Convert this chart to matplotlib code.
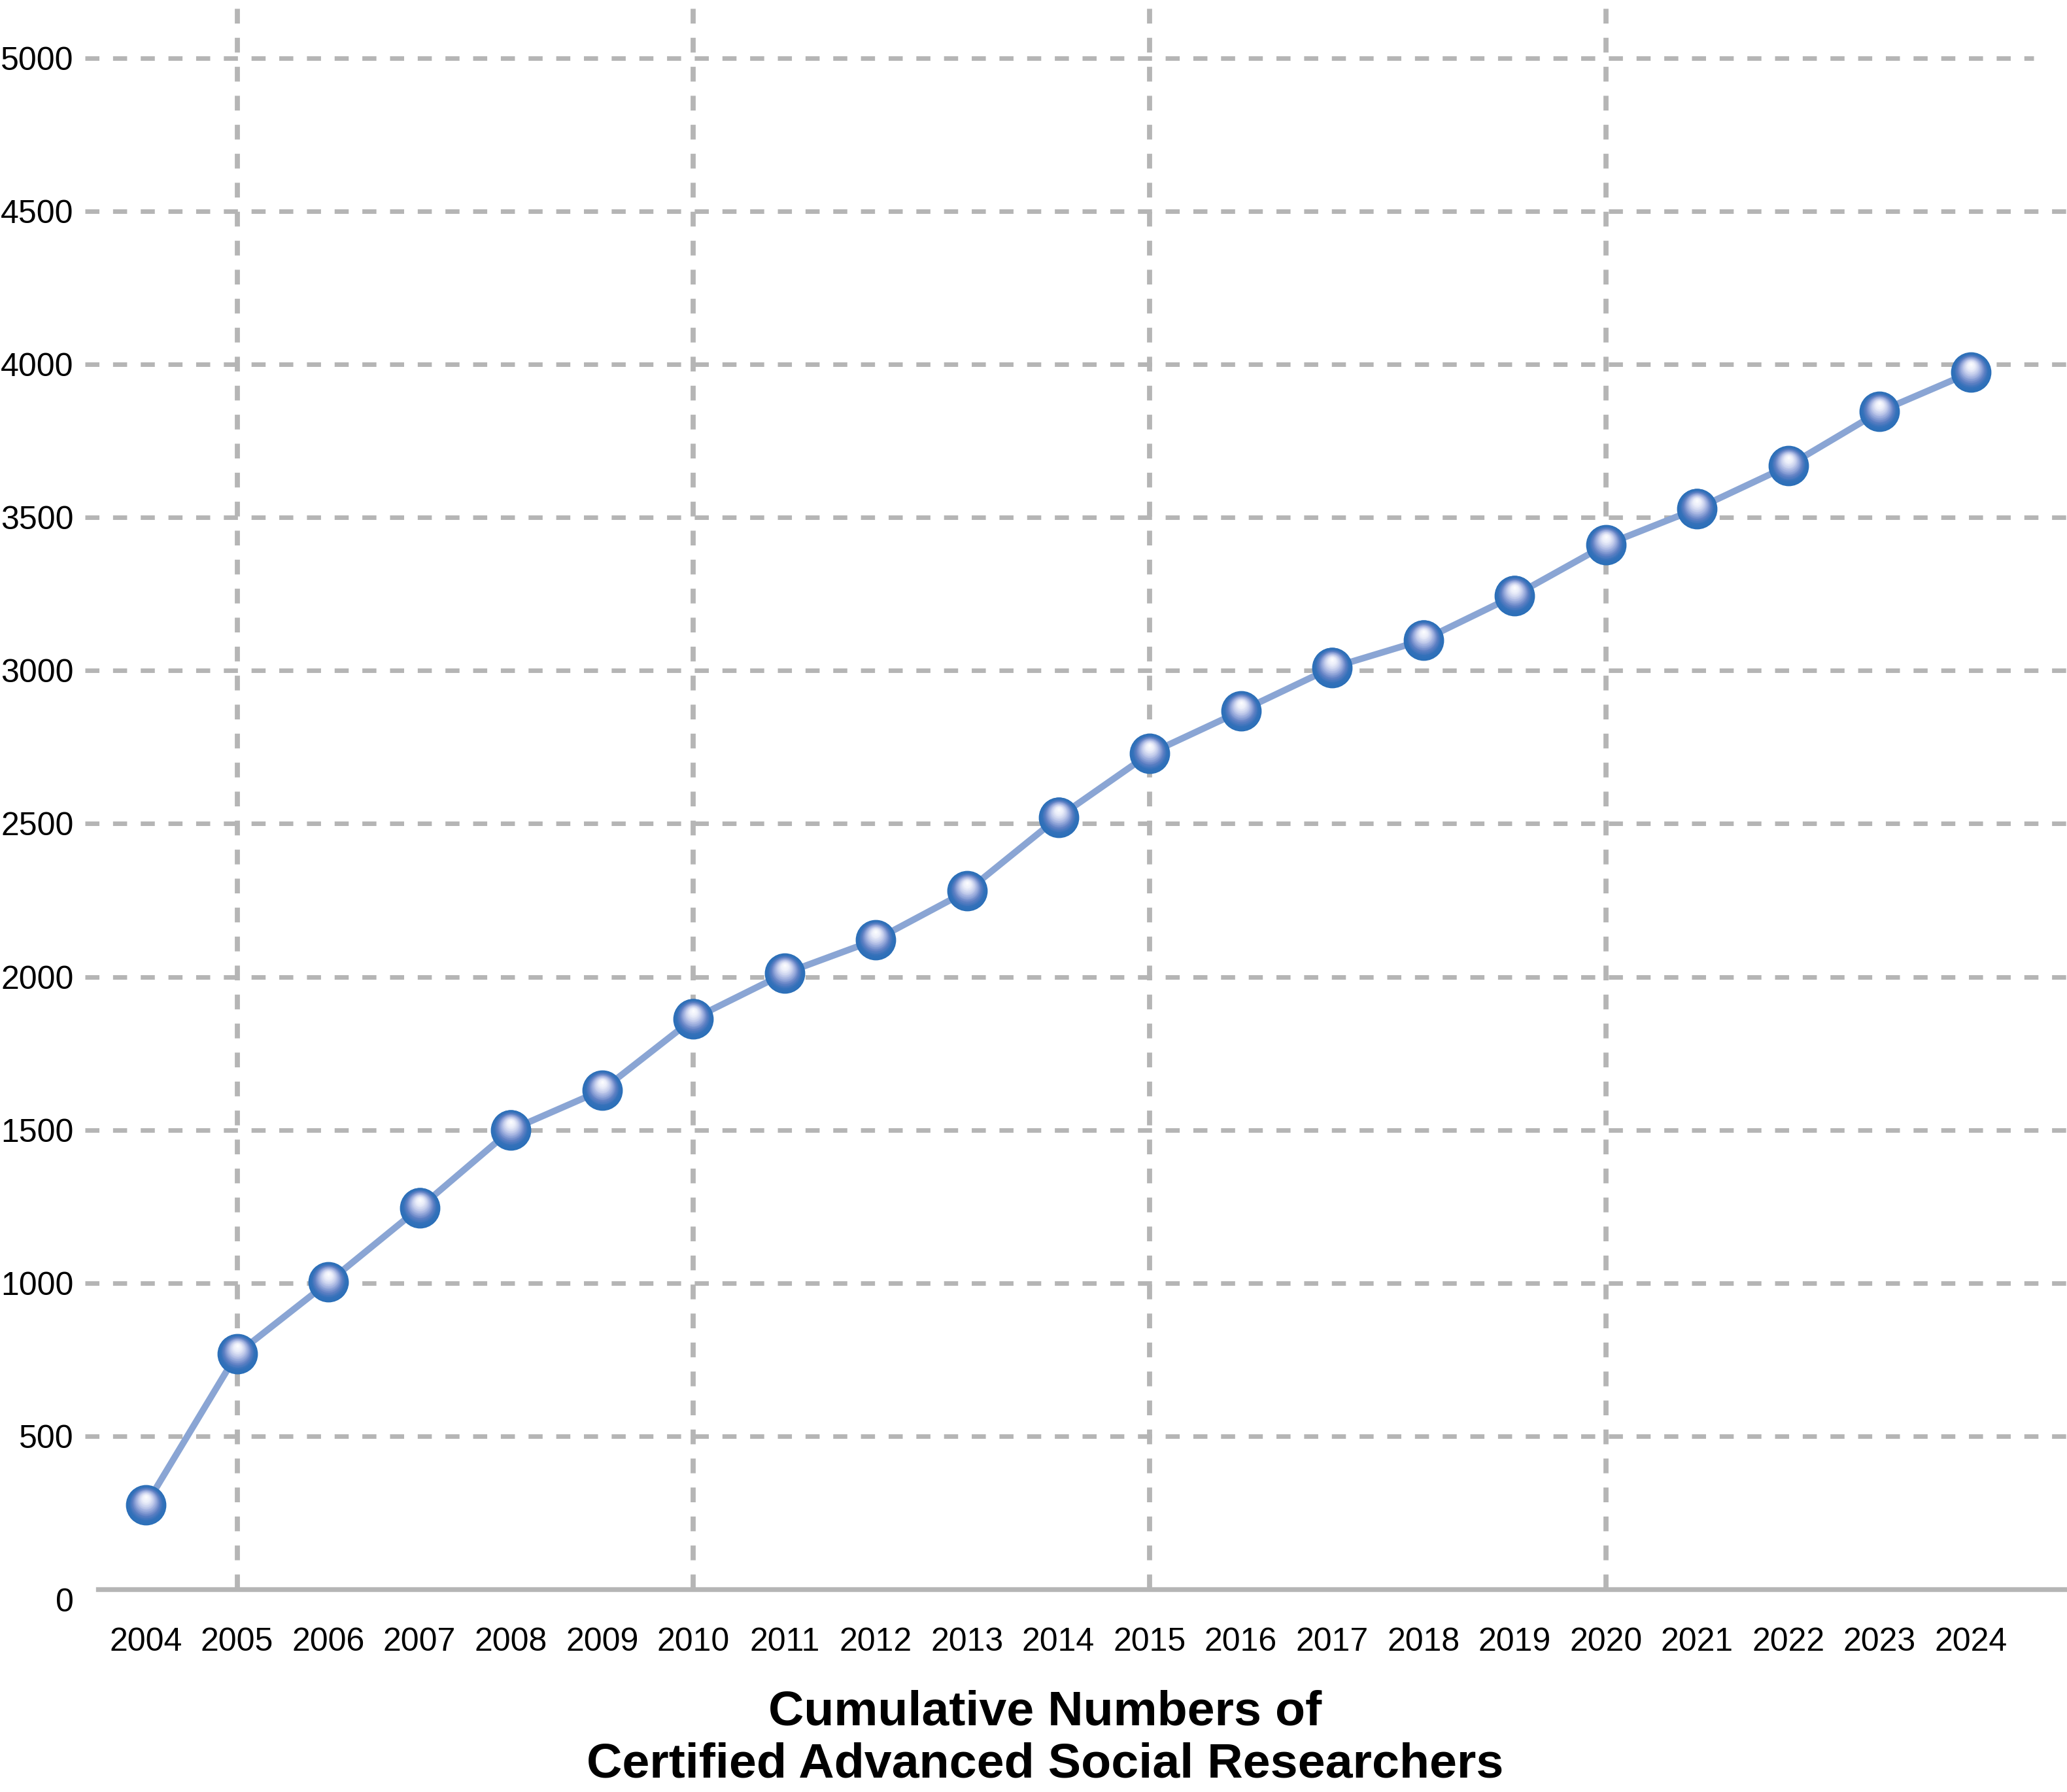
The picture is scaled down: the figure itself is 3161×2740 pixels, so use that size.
import numpy as np
import matplotlib
matplotlib.use("Agg")
import matplotlib.pyplot as plt
from matplotlib import font_manager as fm
from matplotlib.transforms import ScaledTranslation
from matplotlib.colors import LinearSegmentedColormap

# ---------------- data ----------------
years = [2004, 2005, 2006, 2007, 2008, 2009, 2010, 2011, 2012, 2013, 2014,
         2015, 2016, 2017, 2018, 2019, 2020, 2021, 2022, 2023, 2024]
cumulative = [275, 769, 1003, 1246, 1500, 1630, 1863, 2011, 2121, 2280, 2521,
              2729, 2868, 3010, 3100, 3245, 3411, 3529, 3669, 3846, 3974]
y_ticks = [500, 1000, 1500, 2000, 2500, 3000, 3500, 4000, 4500, 5000]
v_grid_years = [2005, 2010, 2015, 2020]
title = "Cumulative Numbers of\nCertified Advanced Social Researchers"

# ---------------- fonts ----------------
avail = {f.name for f in fm.fontManager.ttflist}
narrow_ok = "Liberation Sans Narrow" in avail
font = "Liberation Sans Narrow" if narrow_ok else "Liberation Sans"
tick_fs = 39 if narrow_ok else 36
title_fs = 56 if narrow_ok else 54.3

W, H, DPI = 3161, 2740, 100
fig = plt.figure(figsize=(W / DPI, H / DPI), dpi=DPI, facecolor="white")
ax_left_px, ax_bottom_px = 150, 2430
ax = fig.add_axes([ax_left_px / W, (H - ax_bottom_px) / H, 1 - ax_left_px / W, ax_bottom_px / H])
ax.set_facecolor("white")

ax.set_xlim(2003.477, 2025.053)
ax.set_ylim(0, 5190)

grid_col = "#b5b5b5"
grid_lw = 5.0
dash = (0, (3.1, 3.0))

# horizontal dashed gridlines (start slightly left of the axis line)
for v in y_ticks:
    xr = 0.983 if v == max(y_ticks) else 1.0
    ax.plot([-0.0066, xr], [v, v], transform=ax.get_yaxis_transform(),
            color=grid_col, lw=grid_lw, ls=dash, clip_on=False, zorder=1,
            solid_capstyle="butt", dash_capstyle="butt")
# vertical dashed gridlines
for yr in v_grid_years:
    ax.axvline(yr, color=grid_col, lw=5.6, ls=(0, (2.9, 2.8)), zorder=1,
               dash_capstyle="butt")

# spines
for s in ["top", "right", "left"]:
    ax.spines[s].set_visible(False)
ax.spines["bottom"].set_color(grid_col)
ax.spines["bottom"].set_linewidth(5.3)
ax.spines["bottom"].set_zorder(2)

# series line
ax.plot(years, cumulative, color="#8aa5d4", lw=7.2, zorder=3,
        solid_capstyle="round", solid_joinstyle="round")

# sphere-like markers: layered circles with shifted highlight
D = 44.5  # marker diameter in points
R = D / 2
cmap = LinearSegmentedColormap.from_list(
    "sphere",
    [(0.0, "#2b6fb8"), (0.16, "#3471ba"), (0.32, "#5f80c4"),
     (0.48, "#97a9db"), (0.64, "#c9d1ee"), (0.8, "#eceffa"), (1.0, "#ffffff")])
N = 44
for k in range(N):
    t = k / N
    diam = D * (1 - t)
    dy = 0.42 * R * t
    trans = ax.transData + ScaledTranslation(0, dy / 72.0, fig.dpi_scale_trans)
    ax.scatter(years, cumulative, s=diam ** 2, color=cmap(t), linewidths=0,
               transform=trans, zorder=4 + k * 0.01, clip_on=False)

# ticks
ax.set_xticks(years)
ax.set_xticklabels([str(y) for y in years])
ax.set_yticks(y_ticks)
ax.set_yticklabels([str(v) for v in y_ticks])
ax.tick_params(axis="both", length=0, labelsize=tick_fs, labelcolor="black")
ax.tick_params(axis="x", pad=42)
ax.tick_params(axis="y", pad=27)
for lab in ax.get_xticklabels() + ax.get_yticklabels():
    lab.set_fontfamily(font)

# the "0" label sits slightly below the axis line
ax.annotate("0", xy=(0, 0), xycoords=ax.get_yaxis_transform(),
            xytext=(-27, -15), textcoords="offset points",
            ha="right", va="center", fontsize=tick_fs, family=font, color="black",
            annotation_clip=False)

# title below the axis
fig.text(1598 / W, (H - 2658) / H, title, ha="center", va="center",
         fontsize=title_fs, fontweight="bold", family=font, color="black",
         linespacing=1.2, multialignment="center")

fig.savefig("out.png", dpi=DPI, facecolor="white")
